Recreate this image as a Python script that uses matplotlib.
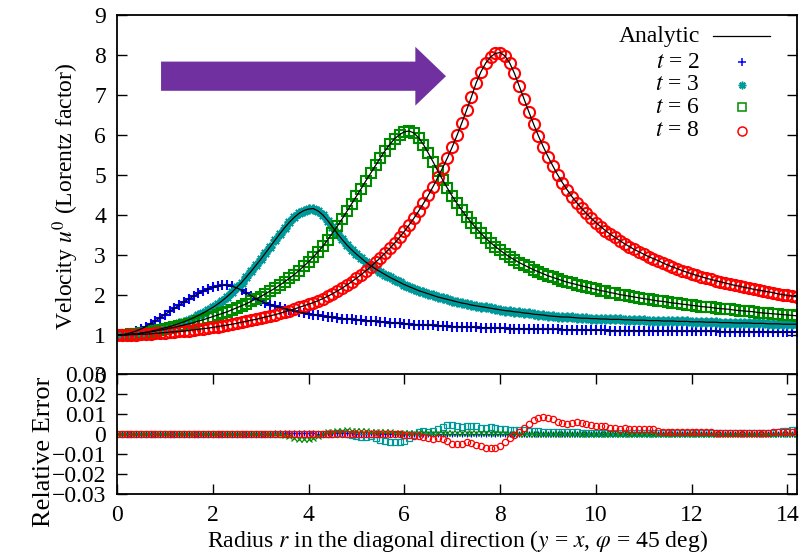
import numpy as np
import matplotlib
matplotlib.use("Agg")
import matplotlib.pyplot as plt
import matplotlib.patches as mpatches

plt.rcParams['font.family'] = ['Liberation Serif', 'DejaVu Serif']
plt.rcParams['mathtext.fontset'] = 'stix'
plt.rcParams['font.size'] = 17

# radius along the diagonal, sampled every 0.1
radius = np.linspace(0, 14.2, 143)

# Lorentz factor u^0 (same values for markers and analytic line)
u_t2 = [1.00, 1.01, 1.03, 1.06, 1.10, 1.15, 1.21, 1.28, 1.35, 1.43,
        1.51, 1.59, 1.67, 1.75, 1.83, 1.90, 1.97, 2.04, 2.10, 2.15,
        2.19, 2.22, 2.24, 2.24, 2.22, 2.18, 2.12, 2.05, 1.98, 1.91,
        1.85, 1.80, 1.76, 1.72, 1.69, 1.66, 1.63, 1.60, 1.57, 1.55,
        1.53, 1.51, 1.49, 1.47, 1.46, 1.44, 1.43, 1.41, 1.40, 1.39,
        1.38, 1.37, 1.36, 1.35, 1.34, 1.33, 1.32, 1.31, 1.30, 1.29,
        1.28, 1.27, 1.26, 1.26, 1.25, 1.24, 1.24, 1.23, 1.22, 1.22,
        1.21, 1.21, 1.20, 1.20, 1.19, 1.19, 1.18, 1.18, 1.18, 1.17,
        1.17, 1.17, 1.16, 1.16, 1.16, 1.15, 1.15, 1.15, 1.15, 1.14,
        1.14, 1.14, 1.14, 1.13, 1.13, 1.13, 1.13, 1.13, 1.12, 1.12,
        1.12, 1.12, 1.12, 1.11, 1.11, 1.11, 1.11, 1.11, 1.11, 1.10,
        1.10, 1.10, 1.10, 1.10, 1.10, 1.10, 1.10, 1.09, 1.09, 1.09,
        1.09, 1.09, 1.09, 1.09, 1.09, 1.09, 1.08, 1.08, 1.08, 1.08,
        1.08, 1.08, 1.08, 1.08, 1.08, 1.08, 1.07, 1.07, 1.07, 1.07,
        1.07, 1.07, 1.07]

u_t3 = [1.00, 1.00, 1.01, 1.02, 1.03, 1.05, 1.07, 1.09, 1.12, 1.15,
        1.18, 1.21, 1.25, 1.29, 1.33, 1.38, 1.43, 1.49, 1.55, 1.62,
        1.69, 1.77, 1.86, 1.96, 2.07, 2.19, 2.31, 2.45, 2.59, 2.74,
        2.89, 3.05, 3.21, 3.37, 3.53, 3.68, 3.82, 3.94, 4.04, 4.11,
        4.15, 4.16, 4.10, 4.00, 3.86, 3.70, 3.54, 3.39, 3.25, 3.13,
        3.02, 2.92, 2.82, 2.73, 2.65, 2.58, 2.51, 2.44, 2.38, 2.32,
        2.26, 2.21, 2.16, 2.11, 2.07, 2.03, 1.99, 1.95, 1.92, 1.89,
        1.86, 1.83, 1.80, 1.78, 1.75, 1.73, 1.71, 1.69, 1.67, 1.65,
        1.63, 1.61, 1.60, 1.58, 1.57, 1.55, 1.54, 1.52, 1.51, 1.50,
        1.48, 1.47, 1.46, 1.45, 1.45, 1.44, 1.43, 1.42, 1.42, 1.41,
        1.41, 1.40, 1.40, 1.39, 1.39, 1.39, 1.38, 1.38, 1.37, 1.37,
        1.37, 1.36, 1.36, 1.36, 1.35, 1.35, 1.35, 1.34, 1.34, 1.34,
        1.33, 1.33, 1.33, 1.32, 1.32, 1.32, 1.31, 1.31, 1.31, 1.30,
        1.30, 1.30, 1.30, 1.29, 1.29, 1.29, 1.28, 1.28, 1.28, 1.27,
        1.27, 1.27, 1.27]

u_t6 = [1.00, 1.00, 1.01, 1.02, 1.03, 1.04, 1.06, 1.08, 1.10, 1.12,
        1.14, 1.17, 1.19, 1.22, 1.25, 1.28, 1.31, 1.35, 1.38, 1.42,
        1.46, 1.50, 1.54, 1.58, 1.63, 1.68, 1.73, 1.78, 1.84, 1.90,
        1.96, 2.03, 2.10, 2.17, 2.25, 2.33, 2.42, 2.51, 2.61, 2.72,
        2.83, 2.95, 3.08, 3.22, 3.38, 3.55, 3.72, 3.90, 4.09, 4.28,
        4.47, 4.66, 4.86, 5.05, 5.24, 5.43, 5.61, 5.77, 5.91, 6.01,
        6.08, 6.10, 6.05, 5.93, 5.76, 5.55, 5.33, 5.10, 4.88, 4.67,
        4.47, 4.29, 4.12, 3.96, 3.81, 3.67, 3.54, 3.42, 3.31, 3.21,
        3.12, 3.03, 2.95, 2.88, 2.81, 2.75, 2.69, 2.63, 2.58, 2.53,
        2.48, 2.44, 2.40, 2.36, 2.32, 2.29, 2.26, 2.23, 2.20, 2.17,
        2.14, 2.11, 2.09, 2.06, 2.04, 2.01, 1.99, 1.97, 1.95, 1.93,
        1.91, 1.89, 1.87, 1.85, 1.84, 1.82, 1.80, 1.79, 1.77, 1.76,
        1.74, 1.73, 1.71, 1.70, 1.69, 1.67, 1.66, 1.65, 1.64, 1.62,
        1.61, 1.60, 1.59, 1.58, 1.56, 1.55, 1.54, 1.53, 1.52, 1.51,
        1.50, 1.49, 1.48]

u_t8 = [1.00, 1.00, 1.00, 1.01, 1.01, 1.02, 1.02, 1.03, 1.04, 1.05,
        1.06, 1.07, 1.08, 1.09, 1.10, 1.11, 1.13, 1.14, 1.16, 1.17,
        1.19, 1.21, 1.23, 1.25, 1.27, 1.29, 1.32, 1.34, 1.37, 1.39,
        1.42, 1.45, 1.48, 1.51, 1.54, 1.58, 1.61, 1.65, 1.69, 1.73,
        1.77, 1.81, 1.86, 1.91, 1.97, 2.03, 2.10, 2.17, 2.25, 2.33,
        2.42, 2.51, 2.61, 2.71, 2.82, 2.93, 3.05, 3.17, 3.30, 3.44,
        3.59, 3.75, 3.92, 4.10, 4.29, 4.49, 4.71, 4.94, 5.18, 5.43,
        5.70, 5.99, 6.30, 6.62, 6.95, 7.30, 7.58, 7.80, 7.95, 8.04,
        8.06, 7.98, 7.80, 7.54, 7.22, 6.90, 6.58, 6.27, 5.98, 5.71,
        5.46, 5.23, 5.01, 4.81, 4.63, 4.46, 4.31, 4.17, 4.04, 3.92,
        3.81, 3.71, 3.61, 3.52, 3.44, 3.36, 3.28, 3.21, 3.14, 3.08,
        3.02, 2.96, 2.91, 2.86, 2.80, 2.75, 2.70, 2.66, 2.61, 2.57,
        2.53, 2.49, 2.46, 2.42, 2.39, 2.36, 2.33, 2.30, 2.27, 2.24,
        2.22, 2.19, 2.17, 2.14, 2.12, 2.10, 2.08, 2.06, 2.03, 2.01,
        1.99, 1.97, 1.95]

# relative error (numerical vs analytic)
err_t2 = ([0.0] * 30 +
          [0.0001, 0.0002, 0.0002, 0.0003, 0.0003, 0.0004, 0.0004, 0.0004, 0.0004, 0.0003,
           0.0003, 0.0003, 0.0002, 0.0002, 0.0003, 0.0003, 0.0004, 0.0004, 0.0003, 0.0003,
           0.0002, 0.0002, 0.0002, 0.0003, 0.0003, 0.0002, 0.0002, 0.0002, 0.0002, 0.0001] +
          [0.0] * 83)

err_t3 = ([0.0] * 45 +
          [0.0, 0.0005, 0.0005, 0.0, -0.0005,
           -0.0010, -0.0015, -0.0015, -0.0010, -0.0020, -0.0030, -0.0035, -0.0040, -0.0040, -0.0042,
           -0.0035, -0.0020, -0.0005, 0.0010, 0.0015, 0.0010, 0.0015, 0.0025, 0.0035, 0.0045,
           0.0047, 0.0040, 0.0035, 0.0038, 0.0042, 0.0038, 0.0030, 0.0030, 0.0033, 0.0030,
           0.0025, 0.0025, 0.0022, 0.0020, 0.0020, 0.0018, 0.0015, 0.0015, 0.0013, 0.0012,
           0.0010, 0.0010, 0.0009, 0.0009, 0.0008, 0.0008, 0.0008, 0.0007, 0.0007, 0.0006,
           0.0006, 0.0006, 0.0005, 0.0005, 0.0005, 0.0004, 0.0004, 0.0004, 0.0004, 0.0003] +
          [0.0003] * 24 +
          [0.0004, 0.0004, 0.0005, 0.0007, 0.0010, 0.0013, 0.0016, 0.0019, 0.0022])

err_t6 = ([0.0] * 35 +
          [-0.0005, -0.0010, -0.0018, -0.0023, -0.0025,
           -0.0025, -0.0020, -0.0010, 0.0000, 0.0008, 0.0012, 0.0015, 0.0017, 0.0018, 0.0017,
           0.0016, 0.0017, 0.0015, 0.0012, 0.0010, 0.0009, 0.0008, 0.0008, 0.0007, 0.0007,
           0.0006, 0.0006, 0.0006, 0.0005, 0.0005, 0.0005, 0.0004, 0.0004, 0.0004, 0.0004] +
          [0.0003] * 12 + [0.0002] * 18 + [0.0001] * 43)

err_t8 = ([0.0] * 60 +
          [-0.0003, -0.0005, -0.0010, -0.0008, -0.0015, -0.0020, -0.0025, -0.0020, -0.0025, -0.0035,
           -0.0048, -0.0052, -0.0048, -0.0042, -0.0045, -0.0055, -0.0062, -0.0068, -0.0072, -0.0068,
           -0.0058, -0.0042, -0.0022, -0.0005, 0.0012, 0.0030, 0.0050, 0.0068, 0.0078, 0.0083,
           0.0080, 0.0074, 0.0062, 0.0053, 0.0052, 0.0057, 0.0060, 0.0057, 0.0050, 0.0043,
           0.0040, 0.0042, 0.0038, 0.0032, 0.0028, 0.0027, 0.0028, 0.0027, 0.0025, 0.0025,
           0.0026, 0.0027, 0.0024, 0.0015, 0.0012, 0.0011, 0.0010, 0.0010, 0.0009, 0.0009,
           0.0008, 0.0008, 0.0008, 0.0008, 0.0008, 0.0007, 0.0007, 0.0007, 0.0007, 0.0007,
           0.0006, 0.0006, 0.0006, 0.0006, 0.0006, 0.0006, 0.0007, 0.0008, 0.0009, 0.0010,
           0.0011, 0.0012, 0.0013])

labels = ['2', '3', '6', '8']
colors = ['#0000ff', '#009999', '#008a00', '#ff0000']
markers = ['+', (8, 2, 0), 's', 'o']
sizes = [7.5, 7, 7, 8]
err_markers = ['+', 's', 'x', 'o']

series = [u_t2, u_t3, u_t6, u_t8]
errors = [err_t2, err_t3, err_t6, err_t8]

fig = plt.figure(figsize=(8.11, 5.54), dpi=100)
W, H = 811.0, 554.0
ax1 = fig.add_axes([117 / W, 1 - 375 / H, 680 / W, 360 / H])
ax2 = fig.add_axes([117 / W, 1 - 494 / H, 680 / W, 120 / H])

# upper panel
for u, c, m, s in zip(series, colors, markers, sizes):
    ax1.plot(radius, u, linestyle='none', marker=m, ms=s, mew=1.5,
             mfc='none', mec=c, zorder=2)
for u in series:
    ax1.plot(radius, u, color='black', lw=0.9, zorder=3)

ax1.set_xlim(0, 14.2)
ax1.set_ylim(0, 9)
ax1.set_yticks(range(0, 10))
ax1.set_xticks([])
ax1.tick_params(axis='y', direction='in', length=7, width=1, pad=8,
                left=True, right=True)

# purple arrow
ax1.add_patch(mpatches.FancyArrow(0.92, 7.47, 5.95, 0, width=0.73,
                                  head_width=1.47, head_length=0.64,
                                  length_includes_head=True,
                                  color='#7030a0', lw=0, zorder=5))

# legend drawn by hand (gnuplot style: text right, sample left of it)
lx_text, lx_mark = 0.857, 0.919
ax1.text(lx_text, 0.940, 'Analytic', transform=ax1.transAxes,
         ha='right', va='center')
ax1.plot([0.877, 0.960], [0.942, 0.942], color='black', lw=0.9,
         transform=ax1.transAxes)
rows = [0.869, 0.806, 0.744, 0.678]
for lab, c, m, s, yy in zip(labels, colors, markers, sizes, rows):
    ax1.text(lx_text, yy, '$t$ = ' + lab, transform=ax1.transAxes,
             ha='right', va='center')
    ax1.plot([lx_mark], [yy], linestyle='none', marker=m, ms=s - 1.5, mew=1.1,
             mfc='none', mec=c, transform=ax1.transAxes)

# lower panel
for e, c, m in zip(errors, colors, err_markers):
    ax2.plot(radius, e, linestyle='none', marker=m, ms=4.5, mew=0.9,
             mfc='none', mec=c)

ax2.set_xlim(0, 14.2)
ax2.set_ylim(-0.03, 0.03)
ax2.set_xticks(range(0, 15, 2))
ax2.set_yticks([-0.03, -0.02, -0.01, 0, 0.01, 0.02, 0.03])
ax2.set_yticklabels(['\u22120.03', '\u22120.02', '\u22120.01', '0',
                     '0.01', '0.02', '0.03'])
ax2.tick_params(direction='in', length=7, width=1, pad=8,
                left=True, right=True, top=True, bottom=True)

for ax in (ax1, ax2):
    for sp in ax.spines.values():
        sp.set_linewidth(1.3)

fig.text(66 / W, 1 - 196 / H, 'Velocity $u^0$ (Lorentz factor)',
         rotation=90, ha='center', va='center')
fig.text(44 / W, 1 - 452 / H, 'Relative Error', fontsize=19,
         rotation=90, ha='center', va='center')
fig.text(457 / W, 1 - 541 / H,
         r'Radius $r$ in the diagonal direction ($y$ = $x$, $\varphi$ = 45 deg)',
         ha='center', va='center')

fig.savefig('out.png', dpi=100)
